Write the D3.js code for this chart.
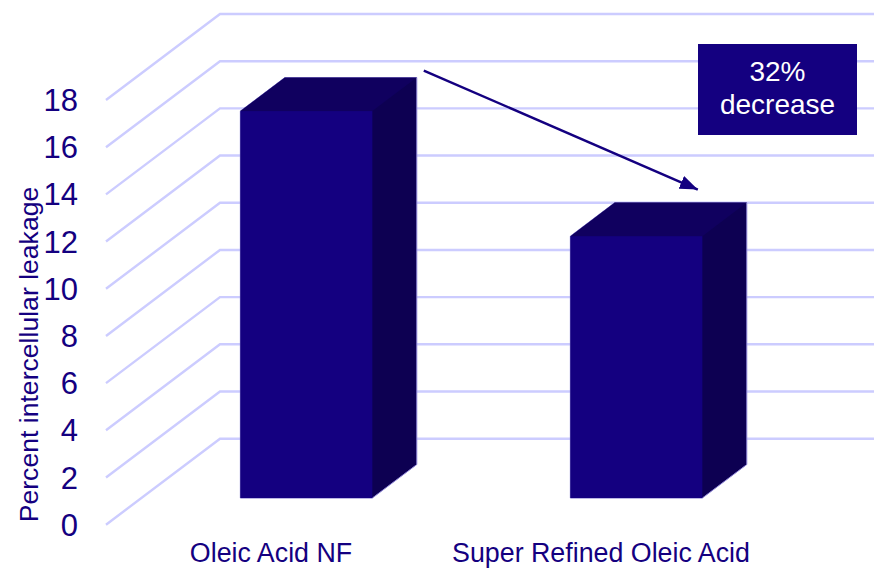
<!DOCTYPE html>
<html>
<head>
<meta charset="utf-8">
<style>
html,body{margin:0;padding:0;background:#fff;overflow:hidden}
svg{display:block}
text{font-family:"Liberation Sans",Arial,sans-serif}
</style>
<script src="https://cdn.jsdelivr.net/npm/d3@7/dist/d3.min.js"></script>
</head>
<body>
<svg id="chart" width="874" height="568"></svg>
<script>
const categories = ["Oleic Acid NF", "Super Refined Oleic Acid"];
const leakage = [16.4, 11.1];
const yTicks = [0, 2, 4, 6, 8, 10, 12, 14, 16, 18];
const yTitle = "Percent intercellular leakage";
const calloutLines = ["32%", "decrease"];

const INK = "#140080", TOP = "#10005f", SIDE = "#0d0052", GRID = "#ccccff";
const wallDepth = {dx: 114, dy: -86};
const barNear = 0.31, barFar = 0.70;

const svg = d3.select("#chart");
const x = d3.scaleBand().domain(categories).range([106, 766]).paddingInner(0.6).paddingOuter(0.3);
const y = d3.scaleLinear().domain([0, 18]).range([524.7, 100]);
const band = d3.scaleBand().domain(categories).range([106, 766]);

// project a point at depth fraction d (0 = front plane, 1 = back wall)
const px = (xv, d) => xv + wallDepth.dx * d;
const py = (yv, d) => y(yv) + wallDepth.dy * d;

// gridlines: floor-side diagonal, then along the back wall
const line = d3.line();
svg.append("g").selectAll("path").data(yTicks).join("path")
  .attr("d", t => line([[px(106, 0), py(t, 0)], [px(106, 1), py(t, 1)], [880, py(t, 1)]]))
  .attr("fill", "none").attr("stroke", GRID).attr("stroke-width", 2.4);

// tick labels
svg.append("g").selectAll("text").data(yTicks).join("text")
  .attr("x", 78).attr("y", t => y(t) + 11)
  .attr("text-anchor", "end").attr("font-size", 31).attr("fill", INK)
  .text(t => t);

// y axis title
svg.append("text")
  .attr("transform", "translate(37.5,354.5) rotate(-90)")
  .attr("text-anchor", "middle").attr("font-size", 26.6).attr("fill", INK)
  .text(yTitle);

// category labels
svg.append("g").selectAll("text").data(categories).join("text")
  .attr("x", c => band(c) + band.bandwidth() / 2).attr("y", 562)
  .attr("text-anchor", "middle").attr("font-size", 26.8).attr("fill", INK)
  .text(c => c);

// 3D bars
const bars = svg.append("g").selectAll("g")
  .data(categories.map((c, i) => ({c, v: leakage[i]}))).join("g");

// faint outline around the whole silhouette, filled with the side colour
bars.append("path").attr("fill", SIDE).attr("stroke", "#8f86d8").attr("stroke-width", 1)
  .attr("stroke-linejoin", "round").attr("d", d => {
    const l = x(d.c), r = l + x.bandwidth();
    return line([
      [px(l, barNear), py(0, barNear)], [px(r, barNear), py(0, barNear)],
      [px(r, barFar), py(0, barFar)], [px(r, barFar), py(d.v, barFar)],
      [px(l, barFar), py(d.v, barFar)], [px(l, barNear), py(d.v, barNear)]]) + "Z";
  });
bars.append("path").attr("fill", TOP).attr("d", d => {
  const l = x(d.c), r = l + x.bandwidth();
  return line([[px(l, barNear), py(d.v, barNear)], [px(l, barFar), py(d.v, barFar)],
               [px(r, barFar), py(d.v, barFar)], [px(r, barNear), py(d.v, barNear)]]) + "Z";
});
bars.append("rect").attr("fill", INK)
  .attr("x", d => px(x(d.c), barNear))
  .attr("y", d => py(d.v, barNear))
  .attr("width", x.bandwidth())
  .attr("height", d => py(0, barNear) - py(d.v, barNear));

// arrow between the two bar tops
const defs = svg.append("defs");
defs.append("marker").attr("id", "head").attr("markerUnits", "userSpaceOnUse")
  .attr("viewBox", "0 0 18 14").attr("refX", 18).attr("refY", 7)
  .attr("markerWidth", 18).attr("markerHeight", 14).attr("orient", "auto")
  .append("path").attr("d", "M0,0L18,7L0,14Z").attr("fill", INK);

const topRight = (i, d) => [px(x(categories[i]) + x.bandwidth(), d), py(leakage[i], d)];
const a = topRight(0, barFar), b = topRight(1, barFar);
svg.append("line")
  .attr("x1", a[0] + 7).attr("y1", a[1] - 7)
  .attr("x2", b[0] - 49).attr("y2", b[1] - 13)
  .attr("stroke", INK).attr("stroke-width", 2.5).attr("marker-end", "url(#head)");

// callout
svg.append("rect").attr("x", 698).attr("y", 44).attr("width", 159).attr("height", 91).attr("fill", INK);
svg.append("g").selectAll("text").data(calloutLines).join("text")
  .attr("x", 777.5).attr("y", (d, i) => 81 + i * 33)
  .attr("text-anchor", "middle").attr("font-size", 28).attr("fill", "#fff")
  .text(d => d);
</script>
</body>
</html>
